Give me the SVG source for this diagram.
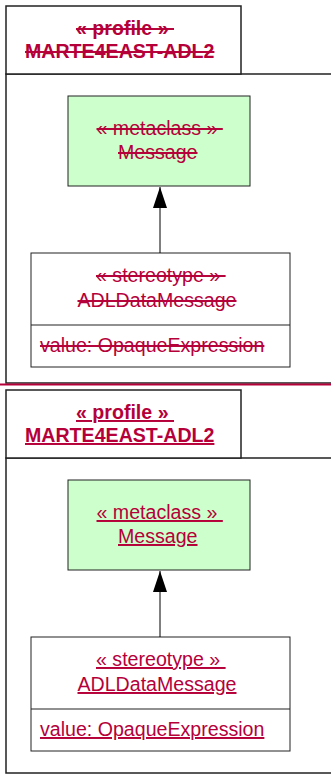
<svg xmlns="http://www.w3.org/2000/svg" width="331" height="776" viewBox="0 0 331 776">
<defs>
<style>
.pkg{fill:#fff;stroke:#222;stroke-width:1.5}
.tab{fill:#fff;stroke:#222;stroke-width:1.5}
.meta{fill:#ccffcc;stroke:#222;stroke-width:1}
.cls{fill:#fff;stroke:#222;stroke-width:1}
.sep{stroke:#222;stroke-width:1.2}
text{font-family:"Liberation Sans",Arial,sans-serif;font-size:19.6px;fill:#b5003a;white-space:pre}
.b{font-weight:bold}
.del{text-decoration:line-through}
.und{text-decoration:underline}
.edge{stroke:#000;stroke-width:1;fill:none}
</style>
<marker id="tri" viewBox="0 0 21 14" refX="21" refY="7" markerWidth="21" markerHeight="14" markerUnits="userSpaceOnUse" orient="auto">
<path d="M0,0 L21,7 L0,14 Z" fill="#000"/>
</marker>
</defs>
<g id="pkg1">
<rect class="pkg" x="6" y="74" width="340" height="309"/>
<rect class="tab" x="6" y="6" width="235" height="68"/>
<text class="b del" x="76" y="35" xml:space="preserve">« profile » </text>
<text class="b del" x="25" y="58">MARTE4EAST-ADL2</text>
</g>
<g id="meta1">
<rect class="meta" x="68" y="96" width="182" height="90"/>
<text class="del" x="96.5" y="135" xml:space="preserve">« metaclass » </text>
<text class="del" x="118" y="159">Message</text>
</g>
<g id="ster1">
<rect class="cls" x="31" y="253" width="259" height="114"/>
<line class="sep" x1="31" y1="325" x2="290" y2="325"/>
<text class="del" x="96" y="282" xml:space="preserve">« stereotype » </text>
<text class="del" x="77.5" y="307">ADLDataMessage</text>
<text class="del" x="40" y="352">value: OpaqueExpression</text>
</g>
<line id="divider" x1="0" y1="384.5" x2="331" y2="384.5" stroke="#b5003a" stroke-width="2"/>
<g id="pkg2">
<rect class="pkg" x="6" y="458" width="340" height="315"/>
<rect class="tab" x="6" y="390" width="235" height="68"/>
<text class="b und" x="76" y="419" xml:space="preserve">« profile » </text>
<text class="b und" x="25" y="442">MARTE4EAST-ADL2</text>
</g>
<g id="meta2">
<rect class="meta" x="68" y="480" width="182" height="90"/>
<text class="und" x="96.5" y="519" xml:space="preserve">« metaclass » </text>
<text class="und" x="118" y="543">Message</text>
</g>
<g id="ster2">
<rect class="cls" x="31" y="637" width="259" height="114"/>
<line class="sep" x1="31" y1="709" x2="290" y2="709"/>
<text class="und" x="96" y="666" xml:space="preserve">« stereotype » </text>
<text class="und" x="77.5" y="691">ADLDataMessage</text>
<text class="und" x="40" y="736">value: OpaqueExpression</text>
</g>
<g id="connectors">
<line class="edge" x1="160" y1="253" x2="160" y2="187" marker-end="url(#tri)"/>
<line class="edge" x1="160" y1="637" x2="160" y2="571" marker-end="url(#tri)"/>
</g>
</svg>
